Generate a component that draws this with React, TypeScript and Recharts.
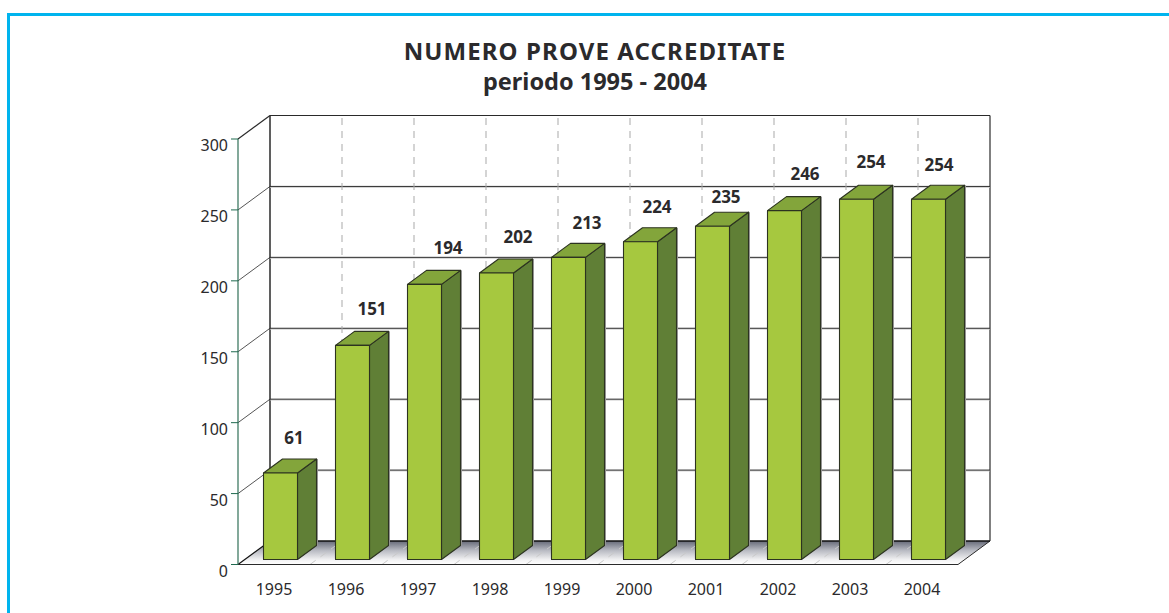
import { Bar, BarChart, CartesianGrid, LabelList, XAxis, YAxis } from "recharts";

const YEARS = ["1995", "1996", "1997", "1998", "1999", "2000", "2001", "2002", "2003", "2004"];
const PROVE = [61, 151, 194, 202, 213, 224, 235, 246, 254, 254];
const Y_TICKS = [0, 50, 100, 150, 200, 250, 300];

// hand placed in the original, so each label has its own nudge from the bar top
const LABEL_DX = [13.5, 19.5, 23.5, 21.5, 18.5, 16.5, 13.5, 20.5, 14.5, 10.5];
const LABEL_DY = [-35, -37, -37, -36, -35, -35, -30, -37, -38, -35];

const rows = YEARS.map((year, i) => ({ year, prove: PROVE[i] }));

const FONT = '"Noto Sans", sans-serif';
const TEXT = "#2b2a2c";
const LINE = "#2a2a2a";

// depth of the fake 3D box
const DEPTH_X = 32;
const DEPTH_Y = -23.5;
// bars sit a little inside the box, and have their own depth
const BAR_SHIFT_X = 6.5;
const BAR_SHIFT_Y = -5;
const BAR_DEPTH_X = 19;
const BAR_DEPTH_Y = -14;

function pts(list: number[][]) {
  return list.map((p) => p.join(",")).join(" ");
}

function HorizontalLine(props: any) {
  const { x1, x2, y1, y2 } = props;
  const plotBottom = props.y + props.height;
  const plotTop = props.y;
  const isFloor = Math.abs(y1 - plotBottom) < 1;
  const isTop = Math.abs(y1 - plotTop) < 1;
  const backY = y1 + DEPTH_Y;

  if (isFloor) {
    return (
      <g key={props.key}>
        <defs>
          <linearGradient id="floorGradient" x1="0" y1="0" x2="0" y2="1">
            <stop offset="0%" stopColor="#666a78" />
            <stop offset="40%" stopColor="#b8bac2" />
            <stop offset="80%" stopColor="#f2f2f3" />
            <stop offset="100%" stopColor="#ffffff" />
          </linearGradient>
        </defs>
        <polygon
          points={pts([
            [x1, y1],
            [x1 + DEPTH_X, backY],
            [x2 + DEPTH_X, backY],
            [x2, y2],
          ])}
          fill="url(#floorGradient)"
        />
        <line x1={x1} y1={y1} x2={x1 + DEPTH_X} y2={backY} stroke="#111" strokeWidth={1.2} />
        <line x1={x2} y1={y2} x2={x2 + DEPTH_X} y2={backY} stroke={LINE} strokeWidth={1} />
        <line x1={x1 + DEPTH_X} y1={backY} x2={x2 + DEPTH_X} y2={backY} stroke="#111" strokeWidth={1.5} />
        {/* side edges of the back wall */}
        <line x1={x1 + DEPTH_X} y1={backY} x2={x1 + DEPTH_X} y2={plotTop + DEPTH_Y} stroke={LINE} strokeWidth={1.5} />
        <line x1={x2 + DEPTH_X} y1={backY} x2={x2 + DEPTH_X} y2={plotTop + DEPTH_Y} stroke={LINE} strokeWidth={1.2} />
      </g>
    );
  }

  return (
    <g key={props.key}>
      <line x1={x1} y1={y1} x2={x1 + DEPTH_X} y2={backY} stroke={LINE} strokeWidth={isTop ? 1.2 : 0.8} />
      {!isTop && (
        <line x1={x1 + DEPTH_X} y1={backY + 0.8} x2={x2 + DEPTH_X} y2={backY + 0.8} stroke="#c4c4c4" strokeWidth={1} />
      )}
      <line x1={x1 + DEPTH_X} y1={backY} x2={x2 + DEPTH_X} y2={backY} stroke={LINE} strokeWidth={1} />
    </g>
  );
}

function VerticalLine(props: any) {
  const { x1, y1, y2 } = props;
  const band = props.width / YEARS.length;
  const fromLeft = x1 - props.x;
  // the grid also hands out the plot edges and the first band, no dash there
  if (fromLeft < band || fromLeft > props.width - 1) return <g key={props.key} />;
  // grid x is the middle of the band, the dashes run on the band edges
  const x = x1 - band / 2;
  const top = Math.min(y1, y2);
  const bottom = Math.max(y1, y2);
  return (
    <g key={props.key}>
      <line
        x1={x}
        y1={bottom}
        x2={x + DEPTH_X}
        y2={bottom + DEPTH_Y}
        stroke="#c9c9c9"
        strokeWidth={1}
        strokeDasharray="7 6"
      />
      <line
        x1={x + DEPTH_X}
        y1={bottom + DEPTH_Y}
        x2={x + DEPTH_X}
        y2={top + DEPTH_Y}
        stroke="#a9a9a9"
        strokeWidth={1}
        strokeDasharray="7 6"
      />
    </g>
  );
}

function Bar3D(props: any) {
  const { width, height } = props;
  const x = props.x + BAR_SHIFT_X;
  const y = props.y + BAR_SHIFT_Y;
  const right = x + width;
  const bottom = y + height;
  const edge = { stroke: "#2c3320", strokeWidth: 1.1, strokeLinejoin: "round" as const };
  return (
    <g>
      <line
        x1={right + BAR_DEPTH_X + 1}
        y1={y + BAR_DEPTH_Y}
        x2={right + BAR_DEPTH_X + 1}
        y2={bottom + BAR_DEPTH_Y}
        stroke="#9a9a9a"
        strokeWidth={1}
      />
      <polygon
        points={pts([
          [right, y],
          [right + BAR_DEPTH_X, y + BAR_DEPTH_Y],
          [right + BAR_DEPTH_X, bottom + BAR_DEPTH_Y],
          [right, bottom],
        ])}
        fill="#607f36"
        {...edge}
      />
      <polygon
        points={pts([
          [x, y],
          [x + BAR_DEPTH_X, y + BAR_DEPTH_Y],
          [right + BAR_DEPTH_X, y + BAR_DEPTH_Y],
          [right, y],
        ])}
        fill="#83a53b"
        {...edge}
      />
      <rect x={x} y={y} width={width} height={height} fill="#a6c83f" {...edge} />
    </g>
  );
}

function ValueLabel(props: any) {
  const { x, y, width, value, index } = props;
  return (
    <text
      x={x + width / 2 + BAR_SHIFT_X + LABEL_DX[index]}
      y={y + BAR_SHIFT_Y + LABEL_DY[index]}
      textAnchor="middle"
      dominantBaseline="central"
      fontFamily={FONT}
      fontWeight={700}
      fontSize={17}
      fill={TEXT}
    >
      {value}
    </text>
  );
}

export default function App() {
  return (
    <div
      style={{
        position: "absolute",
        left: 0,
        top: 0,
        width: 1169,
        height: 613,
        background: "#fff",
        overflow: "hidden",
        fontFamily: FONT,
      }}
    >
      <div
        style={{
          position: "absolute",
          left: 7,
          top: 13,
          width: 1200,
          height: 640,
          border: "3px solid #00b4ee",
          boxSizing: "border-box",
        }}
      />
      <div
        style={{
          position: "absolute",
          left: 295,
          width: 600,
          top: 36,
          textAlign: "center",
          fontWeight: 700,
          lineHeight: "30px",
          color: TEXT,
        }}
      >
        <div style={{ fontSize: 24, letterSpacing: 1.1 }}>NUMERO PROVE ACCREDITATE</div>
        <div style={{ fontSize: 23.5 }}>periodo 1995 - 2004</div>
      </div>
      <div style={{ position: "absolute", left: 0, top: 0 }}>
        <BarChart
          width={1169}
          height={613}
          data={rows}
          barSize={34}
          margin={{ top: 139, right: 211, bottom: 18.5, left: 188 }}
        >
          <CartesianGrid horizontal={HorizontalLine} vertical={VerticalLine} />
          <XAxis
            dataKey="year"
            height={30}
            axisLine={{ stroke: LINE, strokeWidth: 1.2 }}
            tickLine={false}
            interval={0}
            tick={{ fill: TEXT, fontSize: 16, fontFamily: FONT, dy: 11 }}
          />
          <YAxis
            width={50}
            domain={[0, 300]}
            ticks={Y_TICKS}
            axisLine={{ stroke: "#2f6f57", strokeWidth: 1.2 }}
            tickLine={{ stroke: "#1f6a4f" }}
            tickSize={7}
            tickMargin={3}
            tick={{ fill: TEXT, fontSize: 16, fontFamily: FONT, dy: 6.5 }}
          />
          <Bar dataKey="prove" shape={Bar3D} isAnimationActive={false}>
            <LabelList dataKey="prove" content={ValueLabel} />
          </Bar>
        </BarChart>
      </div>
    </div>
  );
}
